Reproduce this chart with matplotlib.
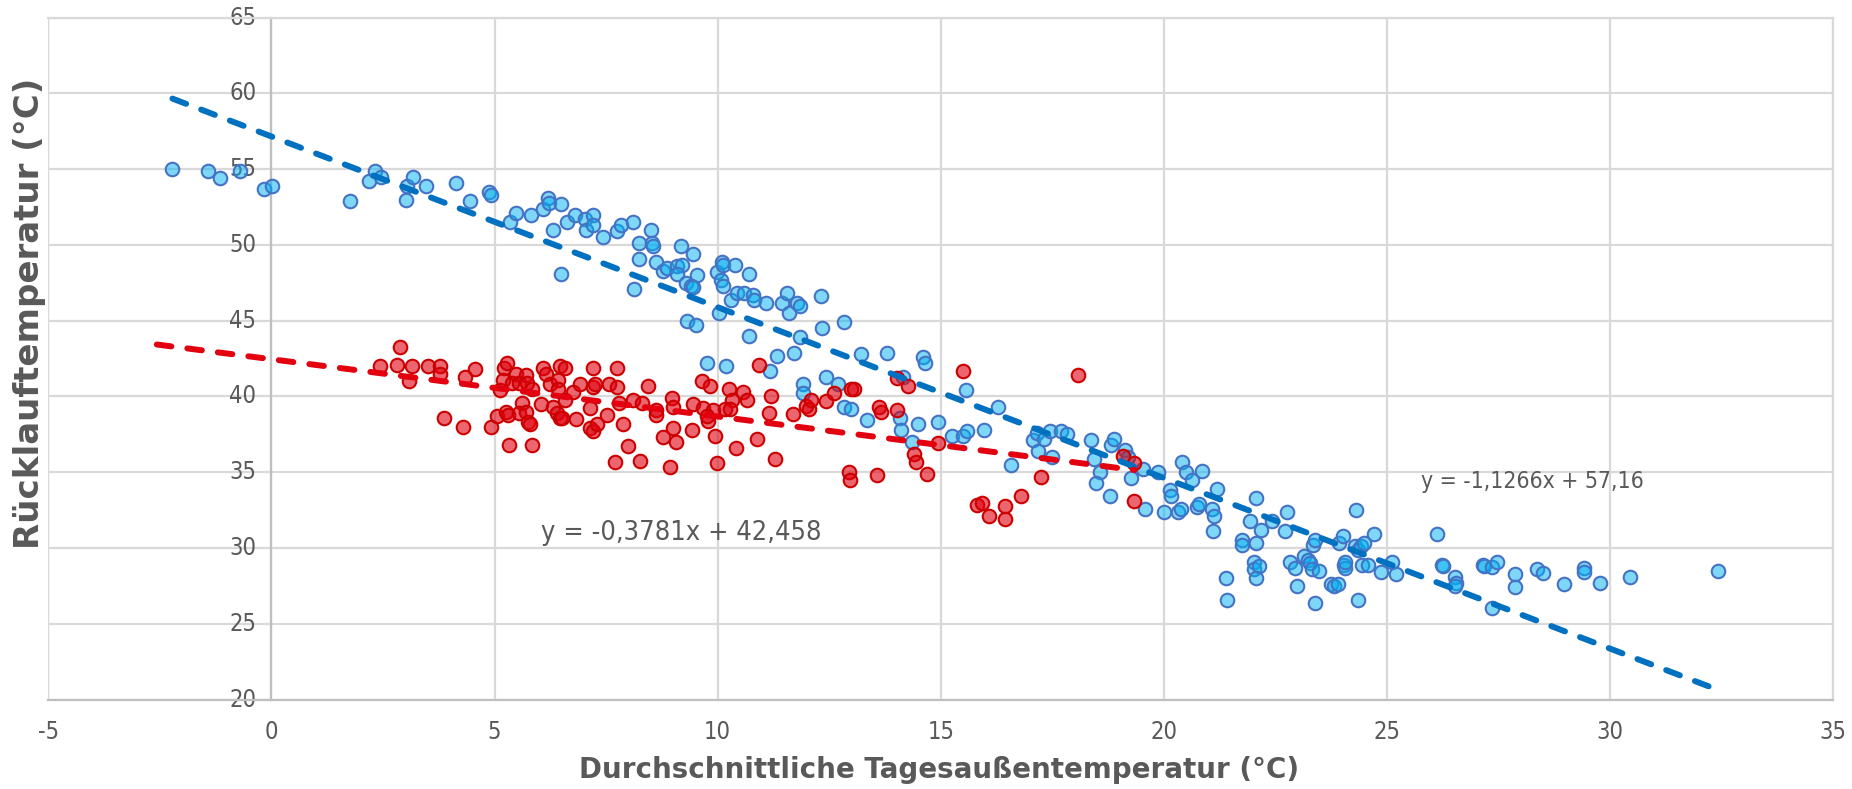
import matplotlib
matplotlib.use("Agg")
import matplotlib.pyplot as plt
import numpy as np

plt.rcParams['axes.unicode_minus'] = False
plt.rcParams['font.family'] = ['DejaVu Sans']

# ---------------- data ----------------
blue_x = [-2.22, -1.42, -1.16, -0.70, -0.17, 0.01, 1.76, 2.19, 2.33, 2.45, 3.01, 3.03, 3.17, 3.47,
          4.13, 4.46, 4.87, 4.92, 5.34, 5.49, 5.81, 6.09, 6.19, 6.22, 6.31, 6.50,
          6.48, 6.63, 6.80, 7.03, 7.21, 7.06, 7.21, 7.44, 7.75, 7.83, 8.10, 8.50, 8.24, 8.24,
          8.54, 8.56, 8.12, 8.61, 8.78, 8.86, 9.08, 9.17, 9.20, 9.45, 9.10, 9.54, 9.28, 9.41,
          9.45, 9.32, 9.51, 9.99, 10.10, 10.13, 10.38, 10.70, 10.07, 10.13, 10.29, 10.43, 10.58,
          10.80, 10.81, 11.08, 10.04, 10.70, 11.45, 11.55, 11.60, 11.79, 11.85, 12.31, 12.35,
          12.83, 11.85, 11.32, 11.71, 13.22, 13.79, 14.60,
          9.76, 10.19, 11.17, 14.64, 14.16, 11.92, 11.92, 12.44, 12.69, 12.83, 12.99, 13.34,
          14.09, 14.10, 14.49, 14.94, 14.36, 15.26, 15.49, 15.58, 15.56, 15.97, 16.29, 16.57,
          17.06, 17.16, 17.17, 17.31, 17.46, 17.69, 17.84, 17.49, 18.37, 18.82, 18.89, 18.44,
          18.56, 18.48, 18.80, 19.12, 19.19, 19.27, 19.53, 19.58, 19.88, 20.01, 20.14, 20.16,
          20.31, 20.40,
          20.50, 20.63, 20.86, 20.39, 20.75, 20.80, 21.08, 21.12, 21.20, 21.11, 21.40, 21.42,
          21.75, 21.75, 21.94, 22.07, 22.18, 22.07, 22.03, 22.02, 22.14, 22.07, 22.42, 22.76,
          22.72, 22.82, 22.94, 22.99, 23.14, 23.23, 23.27, 23.32, 23.47, 23.34, 23.39, 23.38,
          23.75, 23.82, 23.90, 23.92, 24.01, 24.04, 24.07, 24.07, 24.30, 24.28, 24.36, 24.42,
          24.48, 24.35, 24.44, 24.57, 24.72, 24.86, 25.11, 25.21, 26.13, 26.24, 26.26, 26.52,
          26.56,
          26.52, 27.16, 27.18, 27.36, 27.48, 27.36, 27.88, 27.87, 28.36, 28.51, 28.98, 29.42,
          29.42, 29.78, 30.45, 32.43]
blue_y = [55.0, 54.9, 54.4, 54.9, 53.7, 53.9, 52.9, 54.2, 54.9, 54.5, 53.0, 53.9, 54.5, 53.9,
          54.1, 52.9, 53.5, 53.3, 51.5, 52.1, 52.0, 52.4, 53.1, 52.8, 51.0, 48.1,
          52.7, 51.5, 52.0, 51.7, 52.0, 51.0, 51.3, 50.5, 50.9, 51.3, 51.5, 51.0, 50.1, 49.1,
          50.1, 49.9, 47.1, 48.9, 48.3, 48.5, 48.6, 49.9, 48.7, 49.4, 48.1, 48.0, 47.5, 47.3,
          47.2, 45.0, 44.7, 48.2, 48.9, 48.7, 48.7, 48.1, 47.7, 47.3, 46.4, 46.8, 46.8,
          46.7, 46.4, 46.2, 45.5, 44.0, 46.2, 46.8, 45.5, 46.2, 46.0, 46.6, 44.5,
          44.9, 43.9, 42.7, 42.9, 42.8, 42.9, 42.6,
          42.2, 42.0, 41.7, 42.2, 41.3, 40.8, 40.2, 41.3, 40.8, 39.3, 39.2, 38.45,
          38.6, 37.8, 38.2, 38.3, 37.0, 37.4, 37.4, 37.7, 40.4, 37.8, 39.3, 35.5,
          37.1, 37.6, 36.4, 37.2, 37.7, 37.7, 37.5, 36.0, 37.1, 36.8, 37.2, 35.9,
          35.0, 34.3, 33.4, 36.5, 36.0, 34.6, 35.2, 32.6, 35.0, 32.4, 33.8, 33.4,
          32.4, 35.7,
          35.0, 34.5, 35.1, 32.6, 32.7, 32.9, 32.6, 32.1, 33.9, 31.1, 28.0, 26.6,
          30.5, 30.2, 31.8, 33.3, 31.2, 30.3, 29.1, 28.6, 28.8, 28.0, 31.8, 32.4,
          31.1, 29.1, 28.7, 27.5, 29.5, 29.2, 29.0, 28.6, 28.5, 30.2, 30.5, 26.4,
          27.6, 27.5, 27.6, 30.3, 30.8, 28.9, 28.7, 29.1, 32.5, 30.1, 29.9, 30.1,
          30.3, 26.6, 28.9, 28.9, 30.9, 28.4, 29.1, 28.3, 30.9, 28.9, 28.8, 28.1,
          27.7,
          27.5, 28.9, 28.8, 28.75, 29.05, 26.05, 28.3, 27.4, 28.6, 28.35, 27.6, 28.7,
          28.4, 27.7, 28.1, 28.5]

red_x = [2.88, 2.43, 2.82, 3.16, 3.09, 3.51, 3.77, 3.77, 3.87, 4.30, 4.33, 4.56, 4.93, 5.06,
         5.12, 5.21, 5.29, 5.18, 5.25, 5.31, 5.33, 5.38, 5.49, 5.55, 5.61, 5.55, 5.70, 5.72,
         5.70, 5.75, 5.79, 5.83, 5.83, 6.05, 6.09, 6.15, 6.24, 6.32, 6.39, 6.46, 6.58, 6.46,
         6.52, 6.43, 6.43, 6.58, 6.82, 6.76, 6.91, 7.14, 7.20, 7.21, 7.25, 7.15, 7.21, 7.29,
         7.53, 7.57, 7.75, 7.75, 7.80, 7.89, 8.00, 7.70, 8.27, 8.11, 8.30, 8.45, 8.62, 8.62,
         8.78, 8.93, 8.97, 8.99, 8.99, 9.07, 9.44, 9.42, 9.64, 9.84, 9.68, 9.79, 9.90, 9.94,
         9.98,
         9.76, 10.25, 10.32, 10.57, 10.66, 10.17, 10.27, 10.42, 10.88, 10.92, 11.15, 11.20,
         11.29, 11.69, 11.99, 12.04, 12.09, 12.44, 12.60, 12.98, 13.05, 12.94, 12.96, 13.58,
         13.62, 13.67, 14.03, 14.03, 14.27, 14.40, 14.44, 14.69, 14.93, 15.49, 15.82, 15.93,
         16.09, 16.44, 16.44, 16.81, 17.25, 18.08, 19.08, 19.33, 19.34]
red_y = [43.25, 42.0, 42.1, 42.0, 41.0, 42.0, 42.0, 41.5, 38.6, 38.0, 41.3, 41.8, 38.0, 38.7,
         40.4, 41.9, 42.2, 41.1, 39.0, 38.8, 36.8, 40.9, 41.5, 40.9, 39.6, 38.9, 41.4, 40.9,
         39.0, 38.3, 38.2, 36.8, 40.5, 39.5, 41.9, 41.5, 40.8, 39.3, 38.9, 42.0, 41.9, 38.6,
         38.6, 41.1, 40.5, 39.8, 38.5, 40.3, 40.8, 39.25, 40.6, 41.9, 40.8, 37.9, 37.7, 38.2,
         38.75, 40.8, 41.9, 40.6, 39.6, 38.2, 36.7, 35.7, 35.75, 39.8, 39.6, 40.7, 39.1, 38.75,
         37.3, 35.35, 39.9, 39.3, 37.9, 37.0, 39.5, 37.8, 41.0, 40.7, 39.25, 38.4, 39.1, 37.4,
         35.6,
         38.7, 40.5, 39.8, 40.3, 39.8, 39.2, 39.2, 36.6, 37.2, 42.1, 38.9, 40.0,
         35.9, 38.85, 39.4, 39.2, 39.8, 39.7, 40.2, 40.5, 40.5, 35.0, 34.5, 34.8,
         39.3, 39.0, 39.1, 41.2, 40.7, 36.2, 35.7, 34.9, 36.9, 41.7, 32.85, 33.0,
         32.1, 32.8, 31.9, 33.4, 34.7, 41.4, 36.1, 35.6, 33.1]

# trendline equations as displayed on the chart
blue_slope, blue_intercept = -1.1266, 57.16
red_slope, red_intercept = -0.3781, 42.458
red_backward_forecast = 5.0
blue_eq_label = "y = -1,1266x + 57,16"
red_eq_label = "y = -0,3781x + 42,458"

x_ticks = [-5, 0, 5, 10, 15, 20, 25, 30, 35]
y_ticks = [20, 25, 30, 35, 40, 45, 50, 55, 60, 65]
x_title = "Durchschnittliche Tagesaußentemperatur (°C)"
y_title = "Rücklauftemperatur (°C)"

# ---------------- figure ----------------
W, H = 1852, 789
fig = plt.figure(figsize=(W / 100, H / 100), dpi=100)
ax = fig.add_axes([48.4 / W, 1 - 699.5 / H, (1833 - 48.4) / W, (699.5 - 17.7) / H])

tick_color = '#595959'
grid_color = '#D9D9D9'
axis_color = '#BFBFBF'

ax.set_xlim(-5, 35)
ax.set_ylim(20, 65)
ax.set_xticks(x_ticks)
ax.set_yticks(y_ticks)
ax.grid(True, color=grid_color, linewidth=1.6, zorder=0)
ax.set_axisbelow(True)

ax.spines['left'].set_position(('data', 0))
ax.spines['left'].set_color(axis_color)
ax.spines['left'].set_linewidth(1.6)
ax.spines['bottom'].set_color(axis_color)
ax.spines['bottom'].set_linewidth(1.6)
for s in ('top', 'right'):
    ax.spines[s].set_color(grid_color)
    ax.spines[s].set_linewidth(1.6)
ax.axvline(-5, color=grid_color, linewidth=1.6, zorder=0.5)

tick_font = dict(family='DejaVu Sans', stretch='condensed', size=17)
ax.tick_params(axis='both', length=0, colors=tick_color)
ax.tick_params(axis='x', pad=15)
ax.tick_params(axis='y', pad=11)
ax.set_xticklabels([str(t) for t in x_ticks], fontdict=tick_font)
ax.set_yticklabels([str(t) for t in y_ticks], fontdict=tick_font)
for lab in ax.get_yticklabels():
    lab.set_verticalalignment('center')

# scatter series
ax.scatter(blue_x, blue_y, s=95, facecolors=(0.0, 0.69, 0.94, 0.5),
           edgecolors='#4472C4', linewidths=1.5, zorder=3)
ax.scatter(red_x, red_y, s=95, facecolors=(0.88, 0.0, 0.06, 0.6),
           edgecolors='#CC0000', linewidths=1.5, zorder=4)

# trendlines
bx = np.array([min(blue_x), max(blue_x)])
rx = np.array([min(red_x) - red_backward_forecast, max(red_x)])
dash = (0, (2.45, 2.7))
ax.plot(bx, blue_slope * bx + blue_intercept, color='#0070C0', linewidth=4.3,
        linestyle=dash, dash_capstyle='round', zorder=5)
ax.plot(rx, red_slope * rx + red_intercept, color='#E3000F', linewidth=4.3,
        linestyle=dash, dash_capstyle='round', zorder=5)

ax.text(25.77, 34.42, blue_eq_label, ha='left', va='center', zorder=6,
        family='DejaVu Sans', stretch='condensed', size=16.5, color=tick_color)
ax.text(6.04, 30.99, red_eq_label, ha='left', va='center', zorder=6,
        family='DejaVu Sans', stretch='condensed', size=19.5, color=tick_color)

# axis titles
fig.text(939 / W, 1 - 770 / H, x_title, ha='center', va='center',
         fontsize=20, fontweight='bold', color=tick_color, family='DejaVu Sans')
fig.text(29.5 / W, 1 - 313 / H, y_title, ha='center', va='center', rotation=90,
         fontsize=24.5, fontweight='bold', color=tick_color, family='DejaVu Sans')

fig.savefig('out.png', dpi=100, facecolor='white')
